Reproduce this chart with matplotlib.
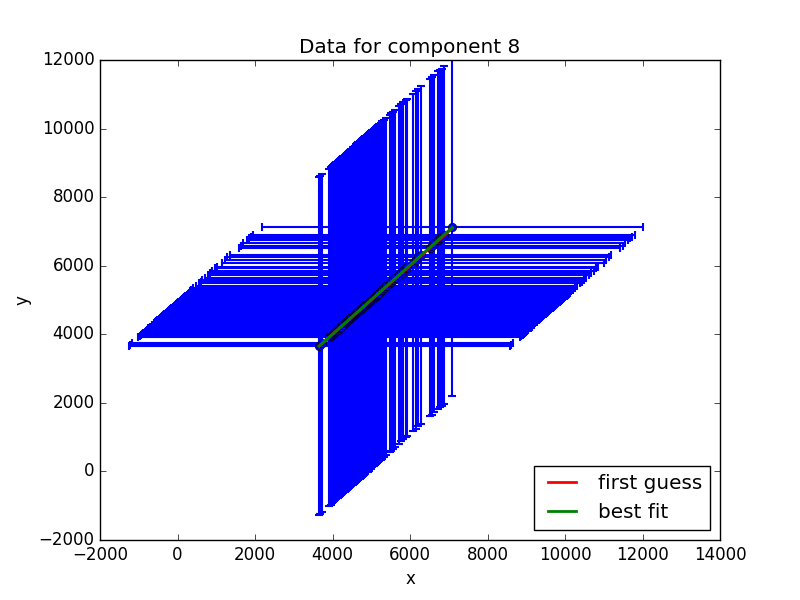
import numpy as np
import matplotlib
matplotlib.use('Agg')
import matplotlib.pyplot as plt

plt.style.use('classic')

# Data points, roughly on the diagonal
x_vals = [3660, 3690, 3740, 3910,
          3950, 3985, 4010, 4040, 4075, 4100, 4130, 4165, 4190, 4220,
          4255, 4280, 4310, 4345, 4370, 4400, 4435, 4460, 4490, 4525,
          4550, 4580, 4615, 4640, 4670, 4705, 4730, 4760, 4795, 4820,
          4850, 4885, 4910, 4940, 4975, 5000, 5030, 5065, 5090, 5120,
          5155, 5180, 5210, 5245,
          5280, 5331, 5392, 5478, 5522, 5563, 5625, 5710, 5762, 5822,
          5884, 5935, 6080, 6142, 6210, 6279, 6512, 6571, 6623, 6710,
          6770, 6813, 6880, 7090]
y_vals = [3657, 3690, 3745, 3915,
          3955, 3990, 4015, 4045, 4080, 4105, 4135, 4170, 4195, 4225,
          4260, 4285, 4315, 4350, 4375, 4405, 4440, 4465, 4495, 4530,
          4555, 4585, 4620, 4645, 4675, 4710, 4735, 4765, 4800, 4825,
          4855, 4890, 4915, 4945, 4980, 5005, 5035, 5070, 5095, 5125,
          5160, 5185, 5215, 5250,
          5290, 5340, 5400, 5485, 5530, 5570, 5630, 5728, 5795, 5853,
          5923, 5950, 6087, 6165, 6243, 6311, 6530, 6573, 6652, 6748,
          6798, 6830, 6894, 7119]
ERR = 4920

# first guess parameters (slope, intercept)
GUESS = (1.0, 0.0)

x = np.array(x_vals)
y = np.array(y_vals)

fig = plt.figure(figsize=(8, 6), dpi=100)
ax = fig.add_subplot(111)

ax.errorbar(x, y, xerr=ERR, yerr=ERR, fmt='o', color='b', mec='k',
            elinewidth=1.5, capsize=3, capthick=1.5, zorder=2)

guess = GUESS[0] * x + GUESS[1]
m, b = np.polyfit(x, y, 1)
ax.plot(x, guess, 'r-', lw=2, label='first guess', zorder=4)
ax.plot(x, m * x + b, 'g-', lw=2, label='best fit', zorder=5)

ax.set_xlim(-2000, 14000)
ax.set_ylim(-2000, 12000)
ax.set_title('Data for component 8')
ax.set_xlabel('x')
ax.set_ylabel('y')
ax.legend(loc='lower right')

fig.savefig('out.png', dpi=100)
